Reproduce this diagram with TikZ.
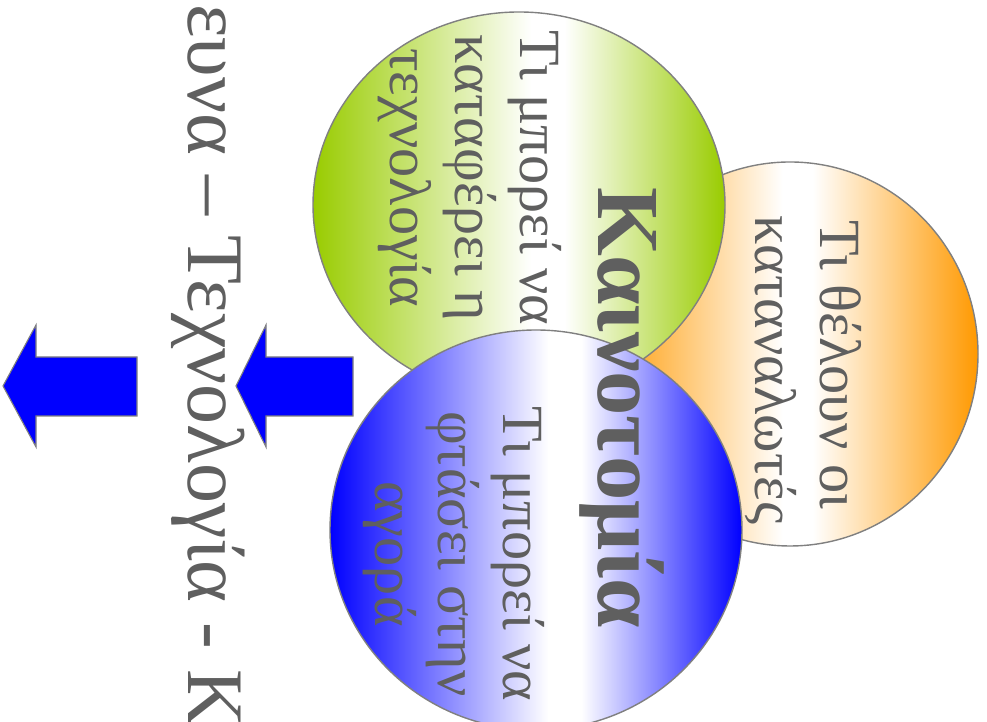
\documentclass[tikz,border=0pt]{standalone}
\usepackage{fontspec}
\setmainfont{Liberation Serif}

\definecolor{txtgray}{HTML}{5F5F5F}
\definecolor{rimgray}{HTML}{808080}
\definecolor{leafgreen}{HTML}{99CC00}
\definecolor{deepblue}{HTML}{0000FF}
\definecolor{sunorange}{HTML}{FF9900}

% Fades, white band a bit right of centre
\pgfdeclarehorizontalshading{greenfade}{100bp}{color(0bp)=(leafgreen); color(25bp)=(leafgreen); color(51.5bp)=(white); color(55.5bp)=(white); color(75bp)=(leafgreen); color(100bp)=(leafgreen)}
\pgfdeclarehorizontalshading{bluefade}{100bp}{color(0bp)=(deepblue); color(25bp)=(deepblue); color(51.5bp)=(white); color(55.5bp)=(white); color(75bp)=(deepblue); color(100bp)=(deepblue)}
\pgfdeclarehorizontalshading{orangefade}{100bp}{color(0bp)=(sunorange); color(25bp)=(sunorange); color(49bp)=(white); color(53bp)=(white); color(75bp)=(sunorange); color(100bp)=(sunorange)}

\begin{document}
\begin{tikzpicture}[
    bubble/.style={draw=rimgray, line width=1pt, shade, shading=#1},
    arrowbox/.style={draw=rimgray, fill=deepblue, line width=0.8pt},
    linetext/.style={text=txtgray, rotate=-90, anchor=base, inner sep=0pt, font=\fontsize{41.5}{48}\selectfont},
    bigtext/.style={text=txtgray, rotate=-90, anchor=base, inner sep=0pt, font=\bfseries\fontsize{63}{72}\selectfont},
    headtext/.style={text=txtgray, rotate=-90, anchor=base west, inner sep=0pt, font=\fontsize{57}{64}\selectfont}
]

    % Frame
    \useasboundingbox (0cm,0cm) rectangle (24.675cm,18.05cm);

    % Title
    \node[headtext] (title) at (4.7cm, 17.95cm) {ευνα – Τεχνολογία - Κ};

    % Arrows
    \foreach \tip/\neck/\tail in {0.075/0.9/3.425, 5.9/6.65/8.825}
        \draw[arrowbox] (\tip,8.4) -- (\neck,9.925) -- (\neck,9.125) -- (\tail,9.125)
            -- (\tail,7.65) -- (\neck,7.65) -- (\neck,6.875) -- cycle;

    % Circles
    \draw[bubble=orangefade] (19.75cm,9.2cm) ellipse (4.7cm and 4.8cm);
    \draw[bubble=greenfade] (12.975cm,12.925cm) ellipse (5.15cm and 4.825cm);
    \draw[bubble=bluefade] (13.4cm,4.8cm) ellipse (5.15cm and 5cm);

    % Green circle
    \node[linetext] (g1) at (13cm, 13.6cm) {Τι μπορεί να};
    \node[linetext] (g2) at (11.375cm, 13.6cm) {καταφέρει η};
    \node[linetext] (g3) at (9.75cm, 13.6cm) {τεχνολογία};

    % Orange circle
    \node[linetext] (o1) at (20.5cm, 8.925cm) {Τι θέλουν οι};
    \node[linetext] (o2) at (18.875cm, 8.8cm) {καταναλωτές};

    % Blue circle
    \node[linetext] (b1) at (12.575cm, 4.2cm) {Τι μπορεί να};
    \node[linetext] (b2) at (10.95cm, 4.2cm) {φτάσει στην};
    \node[linetext] (b3) at (9.375cm, 4.2cm) {αγορά};

    % Centre
    \node[bigtext] (core) at (14.95cm, 7.85cm) {Καινοτομία};

\end{tikzpicture}
\end{document}
